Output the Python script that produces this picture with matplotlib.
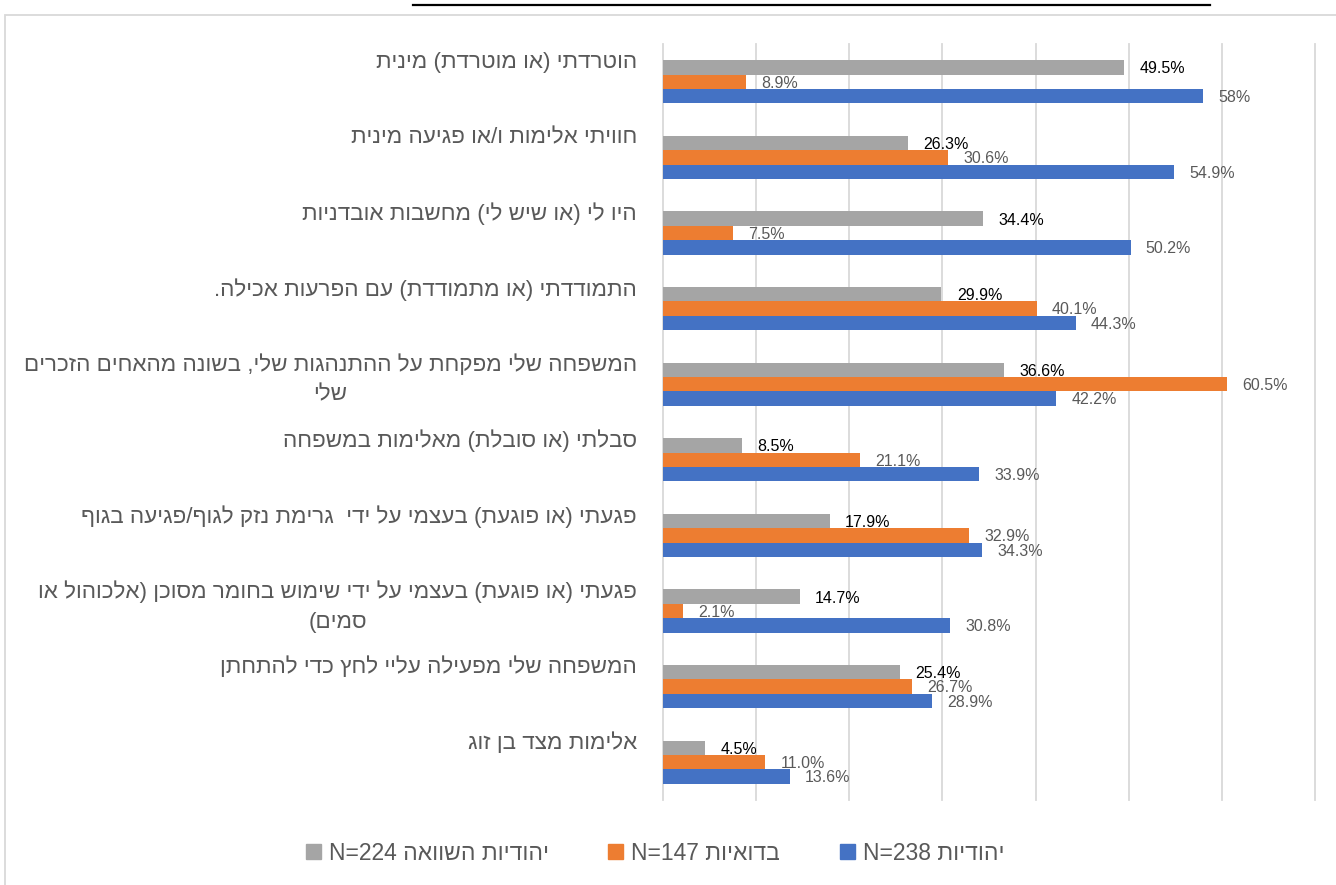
import numpy as np
import matplotlib.pyplot as plt
from matplotlib.lines import Line2D
from matplotlib.patches import Rectangle, Patch

plt.rcParams['font.family'] = ['Liberation Sans', 'DejaVu Sans']

categories = [
    "הוטרדתי (או מוטרדת) מינית",
    "חוויתי אלימות ו/או פגיעה מינית",
    "היו לי (או שיש לי) מחשבות אובדניות",
    "התמודדתי (או מתמודדת) עם הפרעות אכילה.",
    "המשפחה שלי מפקחת על ההתנהגות שלי, בשונה מהאחים הזכרים\nשלי",
    "סבלתי (או סובלת) מאלימות במשפחה",
    "פגעתי (או פוגעת) בעצמי על ידי  גרימת נזק לגוף/פגיעה בגוף",
    "פגעתי (או פוגעת) בעצמי על ידי שימוש בחומר מסוכן (אלכוהול או\nסמים)",
    "המשפחה שלי מפעילה עליי לחץ כדי להתחתן",
    "אלימות מצד בן זוג",
]

# values kept as printed on the labels (%)
compare_vals = ["49.5", "26.3", "34.4", "29.9", "36.6", "8.5", "17.9", "14.7", "25.4", "4.5"]
bedouin_vals = ["8.9", "30.6", "7.5", "40.1", "60.5", "21.1", "32.9", "2.1", "26.7", "11.0"]
jewish_vals = ["58", "54.9", "50.2", "44.3", "42.2", "33.9", "34.3", "30.8", "28.9", "13.6"]

series_names = ["יהודיות השוואה N=224", "בדואיות N=147", "יהודיות N=238"]
colors = ['#A5A5A5', '#ED7D31', '#4472C4']
label_colors = ['#000000', '#595959', '#595959']

MIRROR = {'(': ')', ')': '('}


def visual(line):
    # tiny bidi pass for a right-to-left paragraph: Hebrew is R, latin/digits L
    kinds = []
    for ch in line:
        if '\u0590' <= ch <= '\u05ff':
            kinds.append('R')
        elif ch.isalnum():
            kinds.append('L')
        else:
            kinds.append('N')
    res = kinds[:]
    n = len(kinds)
    i = 0
    while i < n:
        if kinds[i] == 'N':
            j = i
            while j < n and kinds[j] == 'N':
                j += 1
            prev = res[i - 1] if i > 0 else 'R'
            nxt = kinds[j] if j < n else 'R'
            d = prev if prev == nxt else 'R'
            for k in range(i, j):
                res[k] = d
            i = j
        else:
            i += 1
    pairs = [(MIRROR.get(c, c) if r == 'R' else c, r) for c, r in zip(line, res)][::-1]
    out = ''
    i = 0
    while i < len(pairs):
        if pairs[i][1] == 'L':
            j = i
            while j < len(pairs) and pairs[j][1] == 'L':
                j += 1
            out += ''.join(c for c, _ in pairs[i:j][::-1])
            i = j
        else:
            out += pairs[i][0]
            i += 1
    return out


def heb(text):
    return '\n'.join(visual(part) for part in text.split('\n'))


W, H = 1336, 885
fig = plt.figure(figsize=(W / 100, H / 100), dpi=100)
ax = fig.add_axes([663 / W, 1 - 800 / H, (1315 - 663) / W, (800 - 44) / H])

y = np.arange(len(categories))
h = 0.19
for off, vals, color, tc in zip([-h, 0, h], [compare_vals, bedouin_vals, jewish_vals],
                                colors, label_colors):
    bars = ax.barh(y + off, [float(v) for v in vals], height=h, color=color, zorder=2)
    for rect, s in zip(bars, vals):
        ax.annotate(s + '%', xy=(rect.get_width(), rect.get_y() + rect.get_height() / 2),
                    xytext=(11, -1), textcoords='offset points', ha='left', va='center',
                    fontsize=11.5, color=tc, zorder=5)

ax.set_xlim(0, 70)
ax.set_ylim(len(categories) - 0.5, -0.5)
ax.set_xticks(range(0, 71, 10))
ax.set_yticks([])
ax.tick_params(length=0, labelbottom=False)
ax.grid(axis='x', color='#D9D9D9', lw=1.3, zorder=0)
for gl in ax.get_xgridlines():
    gl.set_clip_on(False)
for sp in ax.spines.values():
    sp.set_visible(False)

# category names sit above the middle of their group, wrapped lines centred
for i, cat in enumerate(categories):
    ax.text(-2.8, i - 0.4, heb(cat), ha='right', va='top', multialignment='center',
            fontsize=16.2, color='#595959', linespacing=1.55)

handles = [Patch(color=c) for c in colors]
fig.legend(handles, [heb(s) for s in series_names], ncol=3, loc='center',
           bbox_to_anchor=(655 / W, 1 - 853 / H), frameon=False, fontsize=16.5,
           labelcolor='#595959', handlelength=0.65, handleheight=0.65,
           handletextpad=0.35, columnspacing=2.6)

# chart border and the underline of the text above it
fig.add_artist(Rectangle((5 / W, -0.1), 1.2, 1 - 15 / H + 0.1, transform=fig.transFigure,
                         fill=False, ec='#D9D9D9', lw=1.3))
fig.add_artist(Line2D([413 / W, 1210 / W], [1 - 5 / H] * 2, color='black', lw=1.6))

fig.savefig('out.png', dpi=100)
